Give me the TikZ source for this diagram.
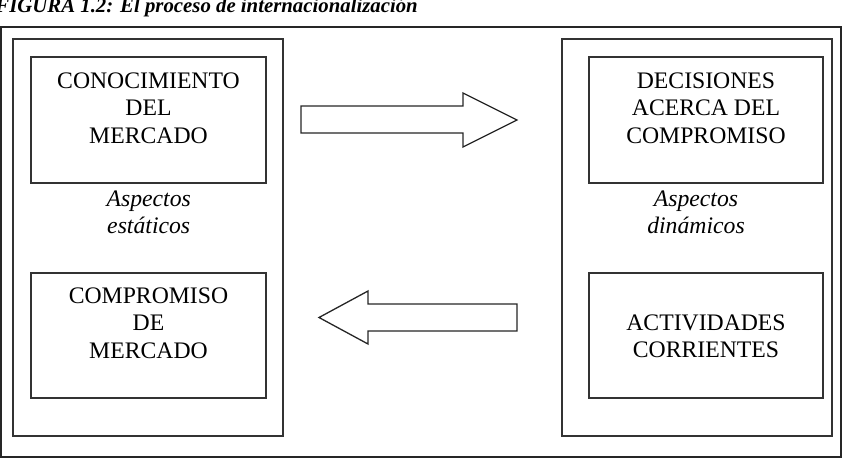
\documentclass[tikz,border=0pt]{standalone}
\usepackage{fontspec}
\setmainfont{Liberation Serif}
\begin{document}
\begin{tikzpicture}[x=1pt,y=-1pt,
  frame/.style={draw=black!85,line width=1.6pt},
  boxline/.style={draw=black!80,line width=1.3pt},
  maintext/.style={align=center,inner sep=0pt,font=\fontsize{23.7}{27.5}\selectfont},
  aspect/.style={align=center,inner sep=0pt,font=\fontsize{23.7}{26.5}\selectfont\itshape},
  blockarrow/.style={draw=black!85,line width=1.3pt,line join=miter,fill=white}]
\useasboundingbox (0,0) rectangle (843,460);
% title
\node[anchor=base east,inner sep=0pt,font=\fontsize{20.8}{24}\selectfont\bfseries\itshape] (title) at (418,13) {FIGURA 1.2: El proceso de internacionalización};
% outer frame
\draw[frame] (1,27) rectangle (841,457);
% left column
\draw[boxline] (13,39) rectangle (283,436);
\draw[boxline] (31,57) rectangle (266,183);
\draw[boxline] (31,273) rectangle (266,398);
% right column
\draw[boxline] (562,39) rectangle (832,436);
\draw[boxline] (589,57) rectangle (823,183);
\draw[boxline] (589,273) rectangle (823,398);
% texts
\node[maintext] (conoc) at (148.5,108) {CONOCIMIENTO\\DEL\\MERCADO};
\node[maintext] (compm) at (148.5,323) {COMPROMISO\\DE\\MERCADO};
\node[maintext] (decis) at (706,108) {DECISIONES\\ACERCA DEL\\COMPROMISO};
\node[maintext] (activ) at (706,336.5) {ACTIVIDADES\\CORRIENTES};
\node[aspect] (estat) at (148.7,212.5) {Aspectos\\estáticos};
\node[aspect] (dinam) at (696,212.5) {Aspectos\\dinámicos};
% block arrows
\draw[blockarrow] (301,106) -- (463,106) -- (463,93) -- (517,120) -- (463,147) -- (463,133) -- (301,133) -- cycle;
\draw[blockarrow] (517,304) -- (368,304) -- (368,291) -- (319,317.5) -- (368,344) -- (368,331) -- (517,331) -- cycle;
\end{tikzpicture}
\end{document}
